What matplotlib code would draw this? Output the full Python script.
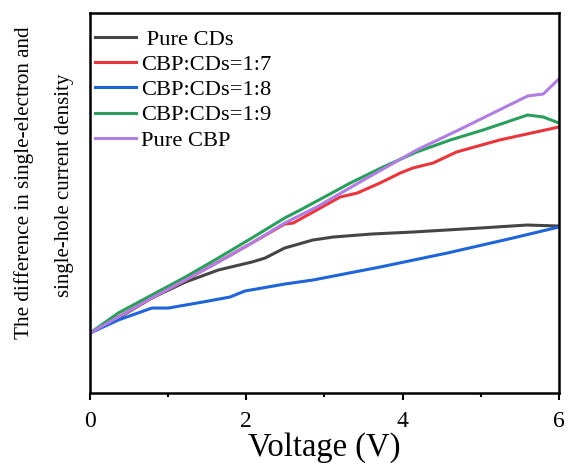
import numpy as np
import matplotlib
matplotlib.use("Agg")
import matplotlib.pyplot as plt
from matplotlib.ticker import MultipleLocator

plt.rcParams['font.family'] = ['Liberation Serif', 'DejaVu Serif']

# values (y in arbitrary units)
v_cds = [0, 0.36, 0.79, 1.22, 1.64, 2.07, 2.24, 2.49, 2.85, 3.11, 3.6, 4.13, 4.99, 5.59, 6.0]
y_cds = [60, 75, 95, 111, 123, 131, 135, 145, 153, 156, 159, 161, 165, 168, 167]

v_17 = [0, 0.36, 0.79, 1.22, 1.64, 2.07, 2.49, 2.6, 3.2, 3.42, 3.71, 3.97, 4.13, 4.39, 4.69, 5.24, 6.0]
y_17 = [60, 76, 95, 113, 131, 150, 169, 170, 196, 200, 210, 220, 225, 230, 241, 253, 266]

v_18 = [0, 0.36, 0.79, 1.0, 1.44, 1.79, 1.98, 2.49, 2.85, 3.71, 4.57, 5.41, 6.0]
y_18 = [60, 73, 85, 85, 91, 96, 102, 109, 113, 126, 140, 155, 166]

v_19 = [0, 0.36, 0.79, 1.22, 1.64, 2.07, 2.49, 2.69, 3.33, 3.75, 4.18, 4.61, 5.03, 5.6, 5.8, 6.0]
y_19 = [60, 80, 98, 116, 135, 155, 175, 183, 210, 226, 241, 253, 263, 278, 276, 270]

v_cbp = [0, 0.36, 0.79, 1.22, 1.64, 2.07, 2.49, 2.9, 3.5, 4.18, 4.69, 5.6, 5.8, 6.0]
y_cbp = [60, 76, 95, 113, 131, 150, 170, 186, 213, 243, 262, 297, 299, 314]

labels = [' Pure CDs', 'CBP:CDs=1:7', 'CBP:CDs=1:8', 'CBP:CDs=1:9', 'Pure CBP']
colors = ['#454545', '#e8363c', '#1f64d8', '#2b9e5e', '#b07de0']

fig = plt.figure(figsize=(5.68, 4.63), dpi=100)
ax = fig.add_axes([0.1585, 0.151, 0.8255, 0.821])

series = [(v_cds, y_cds), (v_17, y_17), (v_18, y_18), (v_19, y_19), (v_cbp, y_cbp)]
for (vx, vy), lab, c in zip(series, labels, colors):
    ax.plot(vx, vy, color=c, lw=2.2, label=lab)

ax.set_xlim(0, 6)
ax.set_ylim(0, 380)
ax.set_xticks([0, 2, 4, 6])
ax.xaxis.set_minor_locator(MultipleLocator(1))
ax.set_yticks([])
ax.tick_params(axis='x', which='major', direction='out', length=5, width=1.5, labelsize=17, pad=8)
ax.tick_params(axis='x', which='minor', direction='out', length=3, width=1.5)
for sp in ax.spines.values():
    sp.set_linewidth(1.8)

ax.set_xlabel('Voltage (V)', fontsize=23.5, labelpad=0)

fig.text(0.042, 0.605, 'The difference in single-electron and', rotation=90,
         ha='center', va='center', fontsize=15.2)
fig.text(0.113, 0.6, 'single-hole current density', rotation=90,
         ha='center', va='center', fontsize=15)

ax.legend(loc='upper left', bbox_to_anchor=(0.0107, 0.958), frameon=False,
          fontsize=16.2, handlelength=1.8, handletextpad=0.23, labelspacing=0.2,
          borderaxespad=0, borderpad=0)

fig.savefig('out.png', dpi=100)
